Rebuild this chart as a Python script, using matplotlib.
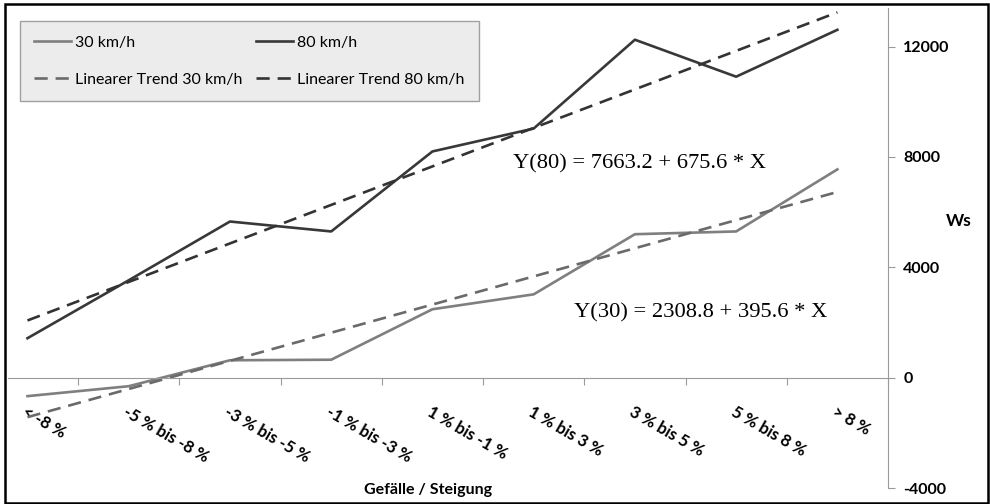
import numpy as np
import matplotlib
matplotlib.use('Agg')
import matplotlib.pyplot as plt
from matplotlib.patches import Rectangle

# Data
categories = ['< -8 %', '-5 % bis -8 %', '-3 % bis -5 %', '-1 % bis -3 %', '1 % bis -1 %',
              '1 % bis 3 %', '3 % bis 5 %', '5 % bis 8 %', '> 8 %']
ws_30 = [-670, -310, 630, 650, 2480, 3020, 5200, 5300, 7550]
ws_80 = [1430, 3530, 5660, 5300, 8200, 9030, 12250, 10910, 12610]
y_ticks = [-4000, 0, 4000, 8000, 12000]
eq_80 = 'Y(80) = 7663.2 + 675.6 * X'
eq_30 = 'Y(30) = 2308.8 + 395.6 * X'

x = np.arange(len(categories))
trend_30 = np.polyval(np.polyfit(x, ws_30, 1), x)
trend_80 = np.polyval(np.polyfit(x, ws_80, 1), x)

plt.rcParams['font.family'] = ['Lato', 'DejaVu Sans']

fig = plt.figure(figsize=(9.9, 5.04), dpi=100)
ax = fig.add_axes([8 / 990, 16 / 504, 880 / 990, 480 / 504])

c30, c80 = '#7f7f7f', '#383838'
l30, = ax.plot(x, ws_30, color=c30, lw=1.9, label='30 km/h')
l80, = ax.plot(x, ws_80, color=c80, lw=1.9, label='80 km/h')
t30, = ax.plot(x, trend_30, color='#6a6a6a', lw=1.9, dashes=(5, 3), label='Linearer Trend 30 km/h')
t80, = ax.plot(x, trend_80, color='#333333', lw=1.9, dashes=(5, 3), label='Linearer Trend 80 km/h')

ax.set_xlim(-0.1925, 8.494)
ax.set_ylim(-4000, 13400)

# spines
for s in ['top', 'left']:
    ax.spines[s].set_visible(False)
ax.spines['bottom'].set_position(('data', 0))
ax.spines['bottom'].set_color('#9a9a9a')
ax.spines['right'].set_color('#9a9a9a')

# x axis: boundary ticks (major), labels at category centres (minor)
ax.set_xticks(np.arange(len(categories)) + 0.5)
ax.set_xticklabels([])
ax.set_xticks(x, minor=True)
ax.set_xticklabels(categories, minor=True, fontweight='bold', fontsize=12)
ax.tick_params(axis='x', which='major', direction='out', length=5, color='#9a9a9a')
ax.tick_params(axis='x', which='minor', length=0, pad=19)
for lab in ax.get_xticklabels(minor=True):
    lab.set_rotation(-30)
    lab.set_ha('left')
    lab.set_va('top')
    lab.set_rotation_mode('anchor')

# y axis on the right
ax.yaxis.tick_right()
ax.set_yticks(y_ticks)
ax.set_yticklabels([str(v) for v in y_ticks], fontweight='bold', fontsize=11.5)
ax.tick_params(axis='y', direction='out', length=5, color='#9a9a9a', pad=6)
ax.yaxis.set_label_position('right')
ax.set_ylabel('Ws', fontweight='bold', fontsize=12.5, rotation=0)
ax.yaxis.set_label_coords(1.08, 0.573)

ax.set_xlabel('Gefälle / Steigung', fontweight='bold', fontsize=11.5)
ax.xaxis.set_label_coords(0.477, -0.005)
ax.xaxis.label.set_va('center')

# trend equations
ax.text(4.8, 7760, eq_80, family='Liberation Serif', fontsize=16.2, va='center')
ax.text(5.4, 2350, eq_30, family='Liberation Serif', fontsize=16.2, va='center')

leg = ax.legend(handles=[l30, t30, l80, t80], ncol=2, loc='upper left',
                bbox_to_anchor=(20 / 990, 1 - 21 / 504), bbox_transform=fig.transFigure,
                fancybox=False, facecolor='#ececec', edgecolor='#a0a0a0', framealpha=1,
                fontsize=11.5, handlelength=2.3, handletextpad=0.25, columnspacing=0.85,
                borderpad=0.9, labelspacing=1.45, borderaxespad=0)
leg.get_frame().set_linewidth(1.0)

# outer chart border
fig.patches.append(Rectangle((0.005, 0.002), 0.993, 0.99, transform=fig.transFigure,
                             fill=False, edgecolor='black', lw=1.8))

fig.savefig('out.png', dpi=100)
